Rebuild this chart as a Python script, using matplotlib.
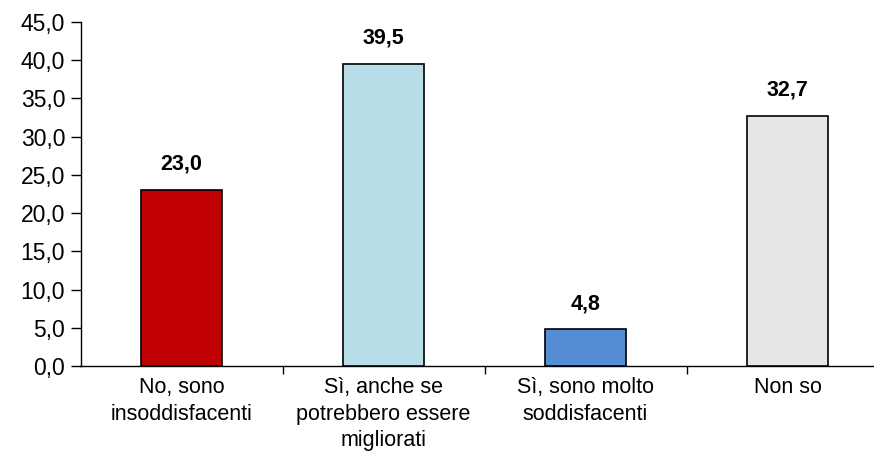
import matplotlib
matplotlib.use("Agg")
import matplotlib.pyplot as plt
from matplotlib import font_manager as fm
from matplotlib.ticker import FuncFormatter, FixedLocator

categories = ["No, sono\ninsoddisfacenti", "Sì, anche se\npotrebbero essere\nmigliorati",
              "Sì, sono molto\nsoddisfacenti", "Non so"]
values = [23.0, 39.5, 4.8, 32.7]
colors = ["#C00000", "#B7DEE8", "#558ED5", "#E6E6E6"]
yticks = [0, 5, 10, 15, 20, 25, 30, 35, 40, 45]

names = {f.name for f in fm.fontManager.ttflist}
fam = "Liberation Sans Narrow" if "Liberation Sans Narrow" in names else "Liberation Sans"
plt.rcParams["font.family"] = [fam, "DejaVu Sans"]

fig = plt.figure(figsize=(8.74, 4.63), dpi=100)
ax = fig.add_axes([80.5 / 874, 1 - 366 / 463, 808 / 874, 344 / 463])
x = list(range(len(values)))
ax.bar(x, values, width=0.4, color=colors, edgecolor="black", linewidth=1.2, zorder=3)
for xi, v in zip(x, values):
    ax.text(xi, v + 2.0, f"{v:.1f}".replace(".", ","), ha="center", va="bottom",
            fontsize=15.5, fontweight="bold")

ax.set_xlim(-0.5, 3.5)
ax.set_ylim(0, 45)
ax.set_yticks(yticks)
ax.yaxis.set_major_formatter(FuncFormatter(lambda v, p: f"{v:.1f}".replace(".", ",")))
ax.set_xticks(x)
ax.set_xticklabels(categories, fontsize=15.5, linespacing=1.35)
ax.tick_params(axis="x", length=0, pad=8)
ax.xaxis.set_minor_locator(FixedLocator([0.5, 1.5, 2.5, 3.5]))
ax.tick_params(axis="x", which="minor", length=6, width=1)
ax.tick_params(axis="y", length=7, width=1, labelsize=16.5, pad=4)
for s in ["top", "right"]:
    ax.spines[s].set_visible(False)
ax.spines["left"].set_linewidth(1)
ax.spines["bottom"].set_linewidth(1)
fig.savefig("out.png", dpi=100)
